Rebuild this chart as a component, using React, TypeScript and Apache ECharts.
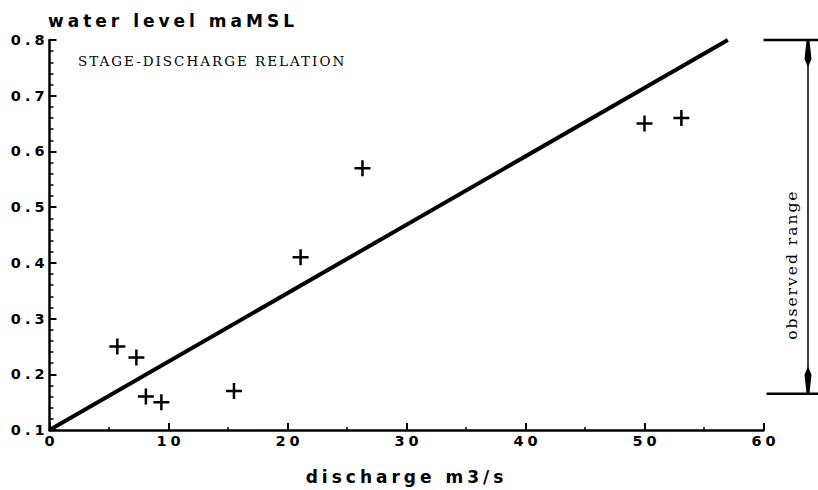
import React, { useEffect, useRef } from "react";
import * as echarts from "echarts";

// Observed discharge (m3/s) and water level (m above MSL)
const discharge = [5.7, 7.3, 8.1, 9.4, 15.5, 21.1, 26.3, 50.0, 53.1];
const waterLevel = [0.25, 0.23, 0.16, 0.15, 0.17, 0.41, 0.57, 0.65, 0.66];

// Fitted stage-discharge relation (end points of the straight line)
const fitDischarge = [0, 57];
const fitLevel = [0.1, 0.8];

// Observed range of water levels shown by the bracket on the right
const observedRange = [0.165, 0.8];

const xTicks = [0, 10, 20, 30, 40, 50, 60];
const yTicks = [0.1, 0.2, 0.3, 0.4, 0.5, 0.6, 0.7, 0.8];

const PLOT_FONT = "DejaVu Sans";
const TYPE_FONT = "DejaVu Serif";

const PLUS = "path://M6.75,0h2.5v6.75h6.75v2.5h-6.75v6.75h-2.5v-6.75h-6.75v-2.5h6.75z";

export default function App() {
  const ref = useRef<HTMLDivElement>(null);

  useEffect(() => {
    if (!ref.current) return;
    const chart = echarts.init(ref.current, null, { renderer: "svg" });

    const tickText = {
      color: "#000",
      fontFamily: PLOT_FONT,
      fontWeight: "bold" as const,
      fontSize: 14.5,
    };
    const nameText = {
      color: "#000",
      fontFamily: PLOT_FONT,
      fontWeight: "bold" as const,
      fontSize: 17,
    };

    chart.setOption({
      animation: false,
      backgroundColor: "#fff",
      title: [
        {
          // y-axis caption, set above the axis top
          text: "water level maMSL",
          left: 48,
          top: 12,
          padding: 0,
          textStyle: nameText,
        },
        {
          text: "STAGE-DISCHARGE RELATION",
          left: 78,
          top: 54,
          padding: 0,
          textStyle: {
            color: "#000",
            fontFamily: TYPE_FONT,
            fontWeight: "normal",
            fontSize: 13.5,
          },
        },
      ],
      grid: { left: 49.5, right: 54.5, top: 40, bottom: 58 },
      xAxis: {
        type: "value",
        min: xTicks[0],
        max: xTicks[xTicks.length - 1],
        interval: xTicks[1] - xTicks[0],
        name: "discharge m3/s",
        nameLocation: "middle",
        nameGap: 38,
        nameTextStyle: nameText,
        axisLine: { lineStyle: { color: "#000", width: 2.5 } },
        axisTick: { inside: true, length: 7, lineStyle: { color: "#000", width: 2 } },
        minorTick: { show: true, splitNumber: 2, length: 3, lineStyle: { color: "#000", width: 1.5 } },
        splitLine: { show: false },
        axisLabel: { ...tickText, margin: 3, padding: [0, 0, 0, 4] },
      },
      yAxis: {
        type: "value",
        min: yTicks[0],
        max: yTicks[yTicks.length - 1],
        interval: 0.1,
        axisLine: { lineStyle: { color: "#000", width: 2.5 } },
        axisTick: { inside: true, length: 7, lineStyle: { color: "#000", width: 2 } },
        minorTick: { show: true, splitNumber: 5, length: 4, lineStyle: { color: "#000", width: 1.5 } },
        splitLine: { show: false },
        axisLabel: {
          ...tickText,
          margin: 1,
          formatter: (v: number) => v.toFixed(1),
        },
      },
      series: [
        {
          type: "line",
          data: fitDischarge.map((q, i) => [q, fitLevel[i]]),
          symbol: "none",
          lineStyle: { color: "#000", width: 4 },
          z: 2,
        },
        {
          type: "scatter",
          data: discharge.map((q, i) => [q, waterLevel[i]]),
          symbol: PLUS,
          symbolSize: 16,
          itemStyle: { color: "#000", opacity: 1 },
          z: 3,
        },
        {
          type: "custom",
          clip: false,
          silent: true,
          data: [[xTicks[xTicks.length - 1], observedRange[0], observedRange[1]]],
          encode: { x: 0, y: [1, 2] },
          renderItem: (_params: any, api: any) => {
            const top = api.coord([api.value(0), api.value(2)]);
            const bot = api.coord([api.value(0), api.value(1)]);
            const vx = top[0] + 44.5;
            const barL = top[0];
            const barR = top[0] + 60;
            const head = (tipY: number, dir: number) => ({
              type: "polygon",
              shape: {
                points: [
                  [vx - 1.5, tipY],
                  [vx + 1.5, tipY],
                  [vx + 3.5, tipY + dir * 18],
                  [vx, tipY + dir * 26],
                  [vx - 3.5, tipY + dir * 18],
                ],
              },
              style: { fill: "#000" },
            });
            return {
              type: "group",
              children: [
                { type: "line", shape: { x1: barL, y1: top[1], x2: barR, y2: top[1] }, style: { stroke: "#000", lineWidth: 2.5 } },
                { type: "line", shape: { x1: barL + 3, y1: bot[1], x2: barR, y2: bot[1] }, style: { stroke: "#000", lineWidth: 2.5 } },
                { type: "line", shape: { x1: vx, y1: top[1], x2: vx, y2: bot[1] }, style: { stroke: "#000", lineWidth: 1.5 } },
                head(top[1] + 1, 1),
                head(bot[1] - 1, -1),
                {
                  type: "text",
                  x: vx - 16,
                  y: top[1] + (bot[1] - top[1]) * 0.635,
                  rotation: Math.PI / 2,
                  style: {
                    text: "observed range",
                    fill: "#000",
                    fontFamily: TYPE_FONT,
                    fontSize: 15.5,
                    align: "center",
                    verticalAlign: "middle",
                  },
                },
              ],
            };
          },
        },
      ],
    });

    return () => chart.dispose();
  }, []);

  return (
    <div className="stage-chart">
      <style>{`
        body { margin: 0; }
        .stage-chart text[style*="DejaVu Sans"] { letter-spacing: 4px; }
        .stage-chart text[style*="DejaVu Serif"] { letter-spacing: 2px; }
      `}</style>
      <div ref={ref} style={{ width: 818, height: 490 }} />
    </div>
  );
}
